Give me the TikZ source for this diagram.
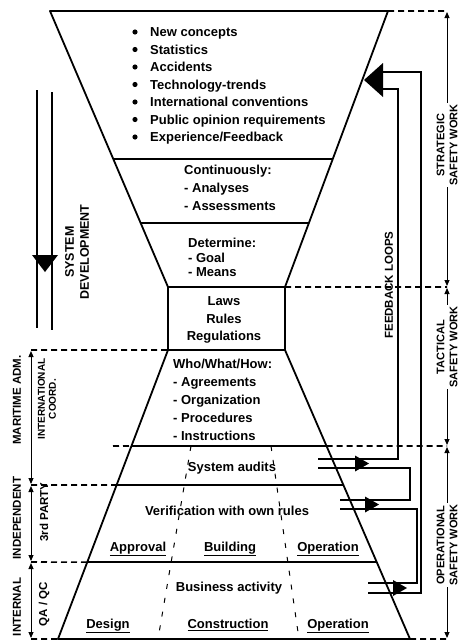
\documentclass[tikz,border=0pt]{standalone}
\usepackage{fontspec}
\setmainfont{Liberation Sans}
\usetikzlibrary{arrows.meta,calc}

\tikzset{
	funnelline/.style = {line width=1.8pt, line join=round},
	divline/.style = {line width=2.2pt},
	dashext/.style = {line width=1.6pt, dash pattern=on 6pt off 4pt},
	splitline/.style = {line width=1pt, dash pattern=on 5pt off 9pt},
	spanarrow/.style = {line width=1pt, {Triangle[length=6pt,width=5pt]}-{Triangle[length=6pt,width=5pt]}, shorten <=1pt, shorten >=1pt},
	fbline/.style = {line width=1.8pt},
	txt/.style = {font=\fontsize{13}{16}\selectfont\bfseries, inner sep=0pt, anchor=base},
	sidelabel/.style = {font=\fontsize{11}{13}\selectfont\bfseries, rotate=90, align=center, inner sep=1pt},
}

\begin{document}
\begin{tikzpicture}[x = 1pt, y = -1pt]
	\useasboundingbox (0,0) rectangle (463,643);

	% funnel corners and side rails
	\coordinate (tl) at (50,11);   \coordinate (tr) at (388,11);
	\coordinate (ml) at (168,287); \coordinate (mr) at (285,287);
	\coordinate (nl) at (168,350); \coordinate (nr) at (285,350);
	\coordinate (bl) at (58,639);  \coordinate (br) at (410,639);
	\coordinate (r0) at (447,11);  \coordinate (r1) at (447,287);
	\coordinate (r2) at (447,446); \coordinate (r3) at (447,639);
	\coordinate (l0) at (31,350);  \coordinate (l1) at (31,485);
	\coordinate (l2) at (31,562);  \coordinate (l3) at (31,639);

	\draw[funnelline] (ml) -- (tl) -- (tr) -- (mr);
	\draw[funnelline] (ml) rectangle (nr);
	\draw[funnelline] (nl) -- (bl) -- (br) -- (nr);
	\draw[divline] ($(tl)!0.536!(ml)$) -- ($(tr)!0.536!(mr)$);
	\draw[divline] ($(tl)!0.768!(ml)$) -- ($(tr)!0.768!(mr)$);
	\foreach \t/\n in {0.332/a, 0.467/b, 0.734/c}{
		\coordinate (d\n l) at ($(nl)!\t!(bl)$);
		\coordinate (d\n r) at ($(nr)!\t!(br)$);
		\draw[divline] (d\n l) -- (d\n r);
	}
	\draw[splitline] (191,446) -- (158,639);
	\draw[splitline] (271,446) -- (299,639);

	% dashed levels and spans
	\draw[dashext]
	(tr) -- (r0) (mr) -- (r1) (dar) -- (r2) (br) -- (r3)
	(l0) -- (nl) (l1) -- (dbl) (l2) -- (dcl) (l3) -- (bl)
	(113,446) -- (dal);
	\draw[spanarrow] (r0) -- (r1);
	\draw[spanarrow] (r1) -- (r2);
	\draw[spanarrow] (r2) -- (r3);
	\draw[spanarrow] (l0) -- (l1);
	\draw[spanarrow] (l1) -- (l2);
	\draw[spanarrow] (l2) -- (l3);

	\node[sidelabel, fill=white] (strat) at (447,145) {STRATEGIC\\SAFETY WORK};
	\node[sidelabel, fill=white] (tact) at (447,347) {TACTICAL\\SAFETY WORK};
	\node[sidelabel, fill=white] (oper) at (447,545) {OPERATIONAL\\SAFETY WORK};
	\node[sidelabel, font=\fontsize{11.5}{13}\selectfont\bfseries] (marit) at (17,400) {MARITIME ADM.};
	\node[sidelabel, font=\fontsize{11.5}{13}\selectfont\bfseries] (indep) at (17,518) {INDEPENDENT};
	\node[sidelabel, font=\fontsize{11.5}{13}\selectfont\bfseries] (inter) at (17,607) {INTERNAL};
	\node[sidelabel, font=\fontsize{10}{11}\selectfont\bfseries] (coord) at (47,399) {INTERNATIONAL\\COORD.};
	\node[sidelabel, font=\fontsize{11.5}{13}\selectfont\bfseries] (third) at (44,512) {3rd PARTY};
	\node[sidelabel, font=\fontsize{11.5}{13}\selectfont\bfseries] (qaqc) at (44,604) {QA / QC};

	% system development
	\draw[line width=1.2pt] (37,90) -- (37,328) (52,92) -- (52,330);
	\fill (32,255) -- (58,255) -- (45,272) -- cycle;
	\node[sidelabel, font=\fontsize{12.5}{15}\selectfont\bfseries] (sysdev) at (77,252) {SYSTEM\\DEVELOPMENT};

	% feedback loops
	\draw[fbline] (382,72) -| (421,593) -- (368,593);
	\draw[fbline] (382,89) -| (398,459) -- (318,459);
	\draw[fbline] (318,468) -| (410,500) -- (340,500);
	\draw[fbline] (340,509) -| (417,583) -- (368,583);
	\fill (364,80) -- (383,63) -- (383,97) -- cycle;
	\fill (369,463.5) -- (355,455.5) -- (355,471.5) -- cycle;
	\fill (379,504.5) -- (365,496.5) -- (365,512.5) -- cycle;
	\fill (407,588) -- (393,580) -- (393,596) -- cycle;
	\node[sidelabel, font=\fontsize{11.5}{13}\selectfont\bfseries] (fbl) at (389,285) {FEEDBACK LOOPS};

	% funnel texts
	\foreach \t [count=\i from 0] in {New concepts, Statistics, Accidents, Technology-trends, International conventions, Public opinion requirements, Experience/Feedback}{
		\fill (135,32+17.5*\i) circle (2.6pt);
		\node[txt, anchor=base west] (item\i) at (150,36.5+17.5*\i) {\t};
	}
	\foreach \t [count=\i from 0] in {Continuously:, - Analyses, - Assessments}
		\node[txt, anchor=base west] (cont\i) at (184,174.5+18*\i) {\t};
	\foreach \t [count=\i from 0] in {Determine:, - Goal, - Means}
		\node[txt, anchor=base west] (det\i) at (188,247.5+14.5*\i) {\t};
	\foreach \t [count=\i from 0] in {Laws, Rules, Regulations}
		\node[txt] (law\i) at (224,305.5+17.5*\i) {\t};
	\foreach \t [count=\i from 0] in {Who/What/How:, - Agreements, - Organization, - Procedures, - Instructions}
		\node[txt, anchor=base west] (who\i) at (173,368+18*\i) {\t};
	\node[txt] (audit) at (232,471.5) {System audits};
	\node[txt] (verif) at (227,515.5) {Verification with own rules};
	\node[txt] (appr) at (138,551.5) {\underline{Approval}};
	\node[txt] (build) at (230,551.5) {\underline{Building}};
	\node[txt] (oper1) at (328,551.5) {\underline{Operation}};
	\node[txt] (busi) at (229,591.5) {Business activity};
	\node[txt] (design) at (108,628.5) {\underline{Design}};
	\node[txt] (constr) at (228,628.5) {\underline{Construction}};
	\node[txt] (oper2) at (338,628.5) {\underline{Operation}};
\end{tikzpicture}
\end{document}
